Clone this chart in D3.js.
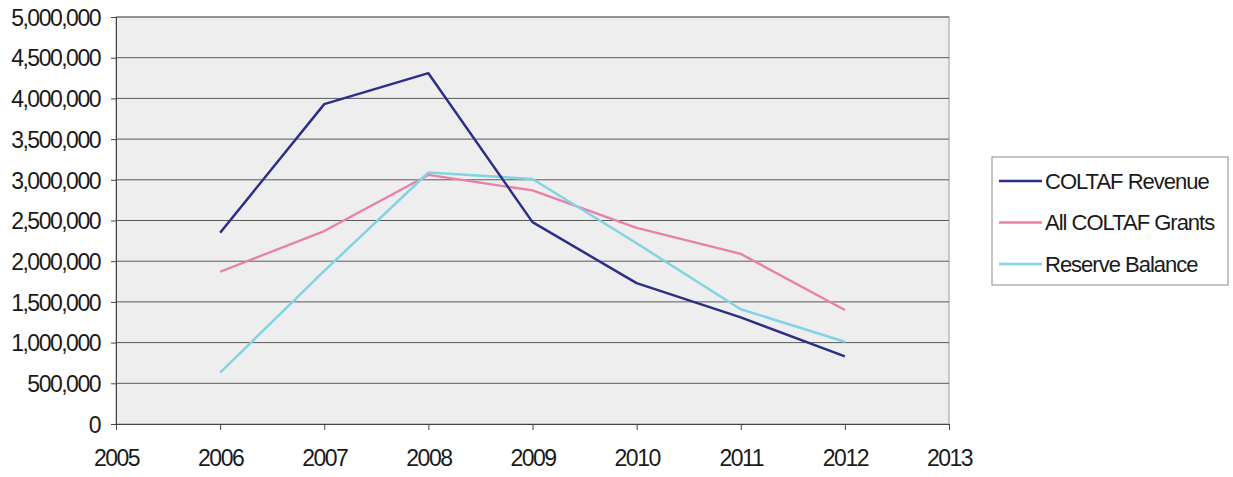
<!DOCTYPE html>
<html>
<head>
<meta charset="utf-8">
<script src="https://cdn.jsdelivr.net/npm/d3@7"></script>
<style>
  body { margin: 0; background: #fff; }
  text { font-family: "Liberation Sans", Arial, sans-serif; fill: #1a1a1a; }
</style>
</head>
<body>
<div id="chart"></div>
<script>
  // chart data
  var years = [2006, 2007, 2008, 2009, 2010, 2011, 2012];
  var revenue = [2350000, 3930000, 4310000, 2480000, 1730000, 1310000, 830000];
  var grants = [1870000, 2370000, 3060000, 2870000, 2410000, 2090000, 1400000];
  var reserve = [630000, 1880000, 3090000, 3010000, 2220000, 1410000, 1010000];
  var seriesNames = ["COLTAF Revenue", "All COLTAF Grants", "Reserve Balance"];
  var yTicks = [0, 500000, 1000000, 1500000, 2000000, 2500000, 3000000, 3500000, 4000000, 4500000, 5000000];
  var xTicks = [2005, 2006, 2007, 2008, 2009, 2010, 2011, 2012, 2013];

  var colors = ["#2c2f86", "#e97fab", "#82d4e2"],
      widths = [2.5, 2.3, 2.5];

  var width = 1233, height = 477;
  var margin = {top: 17, left: 116, right: 284, bottom: 53};

  var svg = d3.select("#chart").append("svg")
      .attr("width", width)
      .attr("height", height);

  var x = d3.scaleLinear().domain([2005, 2013]).range([margin.left, width - margin.right]);
  var y = d3.scaleLinear().domain([0, 5000000]).range([height - margin.bottom, margin.top]);

  // plot background
  svg.append("rect")
      .attr("x", x(2005))
      .attr("y", y(5000000))
      .attr("width", x(2013) - x(2005))
      .attr("height", y(0) - y(5000000))
      .attr("fill", "#eeeeee")
      .attr("stroke", "#9a9a9a");

  // gridlines
  svg.append("g").selectAll("line")
      .data(yTicks.slice(1))
      .join("line")
      .attr("x1", x(2005))
      .attr("x2", x(2013))
      .attr("y1", function(d) { return y(d); })
      .attr("y2", function(d) { return y(d); })
      .attr("stroke", "#5a5a5a")
      .attr("stroke-width", 1);

  var fmt = d3.format(",");

  var yAxis = svg.append("g")
      .attr("transform", "translate(" + x(2005) + ",0)")
      .call(d3.axisLeft(y).tickValues(yTicks).tickFormat(function(d) { return fmt(d); }).tickSize(5).tickPadding(11));

  var xAxis = svg.append("g")
      .attr("transform", "translate(0," + y(0) + ")")
      .call(d3.axisBottom(x).tickValues(xTicks).tickFormat(d3.format("d")).tickSize(6).tickPadding(20));

  [yAxis, xAxis].forEach(function(a) {
    a.select(".domain").attr("stroke", "#444");
    a.selectAll(".tick line").attr("stroke", "#444");
    a.selectAll("text")
        .style("font-size", "23px")
        .style("letter-spacing", "-1.5px")
        .attr("fill", "#1a1a1a");
  });
  yAxis.selectAll("text").attr("dy", "0.36em");

  // series lines
  var allSeries = [revenue, grants, reserve];
  var line = d3.line()
      .x(function(d, i) { return x(years[i]); })
      .y(function(d) { return y(d); });

  svg.append("g").selectAll("path")
      .data([1, 2, 0])
      .join("path")
      .attr("d", function(k) { return line(allSeries[k]); })
      .attr("fill", "none")
      .attr("stroke", function(k) { return colors[k]; })
      .attr("stroke-width", function(k) { return widths[k]; })
      .attr("stroke-linejoin", "round");

  // legend
  var legend = svg.append("g").attr("transform", "translate(992,157)");
  legend.append("rect")
      .attr("width", 236)
      .attr("height", 128)
      .attr("fill", "#fff")
      .attr("stroke", "#8a8a8a");

  var item = legend.selectAll("g.item")
      .data(seriesNames)
      .join("g")
      .attr("class", "item")
      .attr("transform", function(d, i) { return "translate(0," + (24 + i * 41.5) + ")"; });

  item.append("line")
      .attr("x1", 7)
      .attr("x2", 50)
      .attr("stroke", function(d, i) { return colors[i]; })
      .attr("stroke-width", function(d, i) { return widths[i]; });

  item.append("text")
      .attr("x", 53)
      .attr("dy", "0.36em")
      .style("font-size", "22px")
      .style("letter-spacing", "-1px")
      .text(function(d) { return d; });
</script>
</body>
</html>
